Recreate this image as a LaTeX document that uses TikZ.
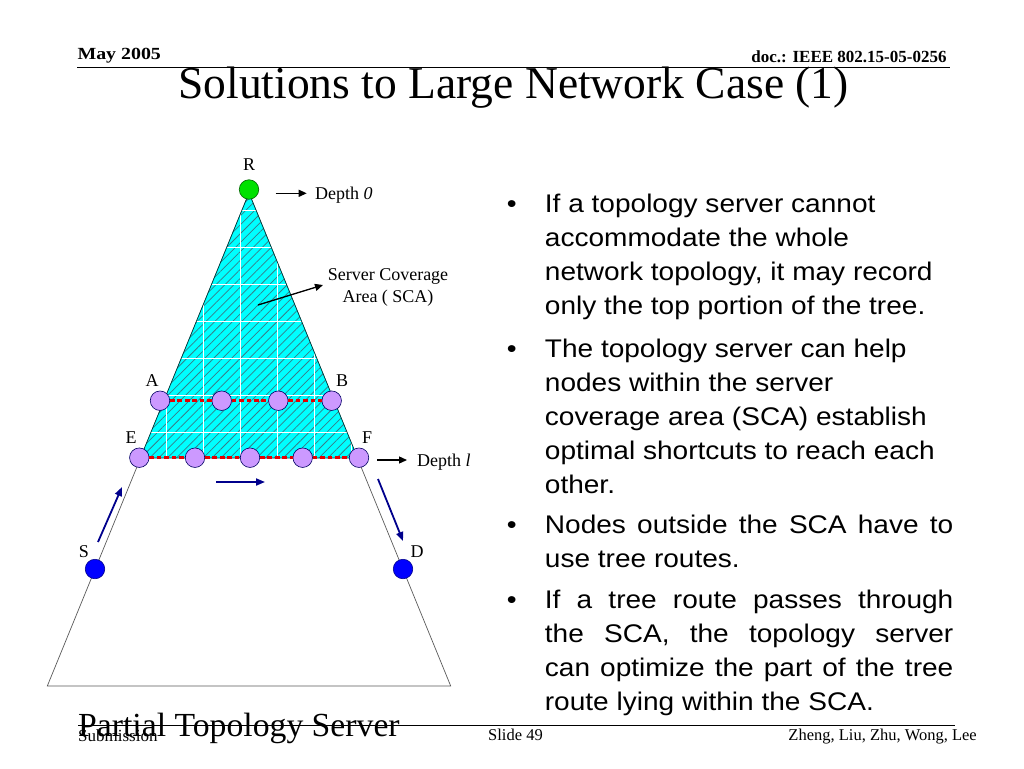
\documentclass[tikz,border=0pt]{standalone}
\usepackage{fontspec}
\setmainfont{Liberation Serif}
\newfontfamily\bulletfont{Liberation Sans}
\usetikzlibrary{arrows.meta,patterns.meta}

\definecolor{scacyan}{RGB}{0,255,255}
\definecolor{hatchteal}{RGB}{55,125,135}
\definecolor{memberlilac}{RGB}{204,153,255}
\definecolor{routenavy}{RGB}{0,0,140}
\definecolor{rootgreen}{RGB}{0,225,0}
\definecolor{endblue}{RGB}{0,0,255}

\newlength{\bulletwidth}
\setlength{\bulletwidth}{371.3pt}

\tikzset{
    every node/.style={inner sep=0pt},
    treenode/.style={circle, line width=0.6pt, minimum size=19.5pt},
    member/.style={treenode, draw=routenavy!70!black, fill=memberlilac},
    rootnode/.style={treenode, draw=green!40!black, fill=rootgreen},
    endnode/.style={treenode, draw=routenavy, fill=endblue},
    tag/.style={anchor=base, font=\fontsize{18}{22.5}\selectfont},
    pointer/.style={line width=1.3pt, -{Triangle[length=8pt,width=7pt]}},
    route/.style={routenavy, line width=1.8pt, -{Triangle[length=9pt,width=7pt]}},
    shortcut/.style={red!90!black, line width=2.8pt, dash pattern=on 4.7pt off 2.7pt},
    bulletpar/.style={anchor=base west, font=\bulletfont\fontsize{25.5}{34}\selectfont}
}

\begin{document}
\begin{tikzpicture}[x=1pt, y=-1pt]
    \useasboundingbox (0,0) rectangle (1024,768);

    % 1. Define Coordinates
    \coordinate (apex) at (249, 193);       % Top of the tree
    \coordinate (scal) at (140.4, 458);     % SCA bottom left
    \coordinate (scar) at (357.6, 458);     % SCA bottom right
    \coordinate (bl)   at (47.3, 686);      % Tree bottom left
    \coordinate (br)   at (450.7, 686);     % Tree bottom right

    % 2. Slide frame
    \draw[line width=1.5pt] (77.3, 67.5) -- (950, 67.5);
    \draw[line width=1.5pt] (78, 725.7) -- (955, 725.7);
    \node[anchor=base west, font=\bfseries\fontsize{17}{20}\selectfont] (date) at (77.3, 59.7) {\scalebox{1.17}[1]{May 2005}};
    \node[anchor=base east, font=\bfseries\fontsize{17}{20}\selectfont] (docno) at (946.7, 63) {doc.: IEEE 802.15-05-0256};
    \node[anchor=base west, font=\fontsize{45.5}{50}\selectfont] (title) at (178.3, 98) {Solutions to Large Network Case (1)};
    \node[anchor=base west, font=\fontsize{17}{20}\selectfont] (submission) at (78, 741.7) {Submission};
    \node[anchor=base west, font=\fontsize{16.5}{20}\selectfont] (slideno) at (488, 740) {Slide 49};
    \node[anchor=base east, font=\fontsize{16.5}{20}\selectfont] (authors) at (977, 740) {Zheng, Liu, Zhu, Wong, Lee};
    \node[anchor=base west, font=\fontsize{33.7}{38}\selectfont] (caption) at (78, 736.7) {Partial Topology Server};

    % 3. The whole tree
    \draw[black!65, line width=0.7pt] (apex) -- (bl) -- (br) -- cycle;

    % 4. Server coverage area (cyan, hatched, white grid)
    \fill[scacyan] (apex) -- (scal) -- (scar) -- cycle;
    \fill[pattern={Lines[angle=45, distance=6.3pt, line width=0.75pt]}, pattern color=hatchteal]
        (apex) -- (scal) -- (scar) -- cycle;
    \begin{scope}
        \clip (apex) -- (scal) -- (scar) -- cycle;
        \foreach \x in {166,203,240,277,314,351}
            \draw[white, line width=0.8pt] (\x, 180) -- (\x, 470);
        \foreach \y in {210,247,284,321,358,395,432}
            \draw[white, line width=0.8pt] (120, \y) -- (380, \y);
    \end{scope}
    \draw[teal!45!black, line width=0.7pt] (apex) -- (scal) -- (scar) -- cycle;

    % 5. Tree nodes
    \node[rootnode] (R) at (249, 189.5) {};
    \node[member] (A)  at (160, 400.7) {};
    \node[member] (a2) at (221.7, 400.7) {};
    \node[member] (a3) at (278.3, 400.7) {};
    \node[member] (B)  at (331.7, 400.7) {};
    \node[member] (E)  at (139.3, 457.7) {};
    \node[member] (e2) at (195, 457.7) {};
    \node[member] (e3) at (250, 457.7) {};
    \node[member] (e4) at (302.7, 457.7) {};
    \node[member] (F)  at (359, 457.7) {};
    \node[endnode] (S) at (95, 569) {};
    \node[endnode] (D) at (403, 569) {};

    % 6. Shortcuts (red dashes)
    \draw[shortcut] (A) -- (a2) -- (a3) -- (B);
    \draw[shortcut] (E) -- (e2) -- (e3) -- (e4) -- (F);

    % 7. Labels
    \node[tag] (lR) at (249, 170.7) {R};
    \node[tag] (lA) at (152, 386.7) {A};
    \node[tag] (lB) at (342, 386.7) {B};
    \node[tag] (lE) at (131, 443) {E};
    \node[tag] (lF) at (367, 443) {F};
    \node[tag] (lS) at (84, 557) {S};
    \node[tag] (lD) at (417, 557) {D};
    \node[tag, anchor=base west] (depth0) at (315, 199) {Depth \textit{0}};
    \node[tag, anchor=base west] (depthl) at (417, 466) {Depth \textit{l}};
    \node[tag, align=center] (scatext) at (388, 302.7) {Server Coverage\\Area ( SCA)};

    % 8. Arrows
    \coordinate (d0a) at (275.7, 193.3);
    \coordinate (d0b) at (306.7, 193.3);
    \coordinate (dla) at (377, 460);
    \coordinate (dlb) at (407, 460);
    \coordinate (scaa) at (258, 305);
    \coordinate (scab) at (323, 285);
    \draw[pointer] (d0a) -- (d0b);
    \draw[pointer] (dla) -- (dlb);
    \draw[pointer] (scaa) -- (scab);

    \coordinate (up1) at (98, 542);
    \coordinate (up2) at (122, 487);
    \coordinate (ac1) at (216, 482);
    \coordinate (ac2) at (265, 482);
    \coordinate (dn1) at (378, 479);
    \coordinate (dn2) at (403, 541);
    \draw[route] (up1) -- (up2);
    \draw[route] (ac1) -- (ac2);
    \draw[route] (dn1) -- (dn2);

    % 9. Bullet text
    \foreach \b/\y in {b1/212.3, b2/357.3, b3/533.3, b4/608.3}
        \node[bulletpar, anchor=base] (\b) at (511.7, \y) {\scalebox{1.1}[1]{•}};
    \node[bulletpar] (p1) at (544.7, 212.3) {\scalebox{1.1}[1]{\parbox[t]{390pt}{\raggedright
        If a topology server cannot\\
        accommodate the whole\\
        network topology, it may record\\
        only the top portion of the tree.}}};
    \node[bulletpar] (p2) at (544.7, 357.3) {\scalebox{1.1}[1]{\parbox[t]{390pt}{\raggedright
        The topology server can help\\
        nodes within the server\\
        coverage area (SCA) establish\\
        optimal shortcuts to reach each\\
        other.}}};
    \node[bulletpar] (p3) at (544.7, 533.3) {\scalebox{1.1}[1]{\parbox[t]{390pt}{\raggedright
        \makebox[\bulletwidth][s]{Nodes outside the SCA have to}\\
        use tree routes.}}};
    \node[bulletpar] (p4) at (544.7, 608.3) {\scalebox{1.1}[1]{\parbox[t]{390pt}{\raggedright
        \makebox[\bulletwidth][s]{If a tree route passes through}\\
        \makebox[\bulletwidth][s]{the SCA, the topology server}\\
        \makebox[\bulletwidth][s]{can optimize the part of the tree}\\
        route lying within the SCA.}}};
\end{tikzpicture}
\end{document}
